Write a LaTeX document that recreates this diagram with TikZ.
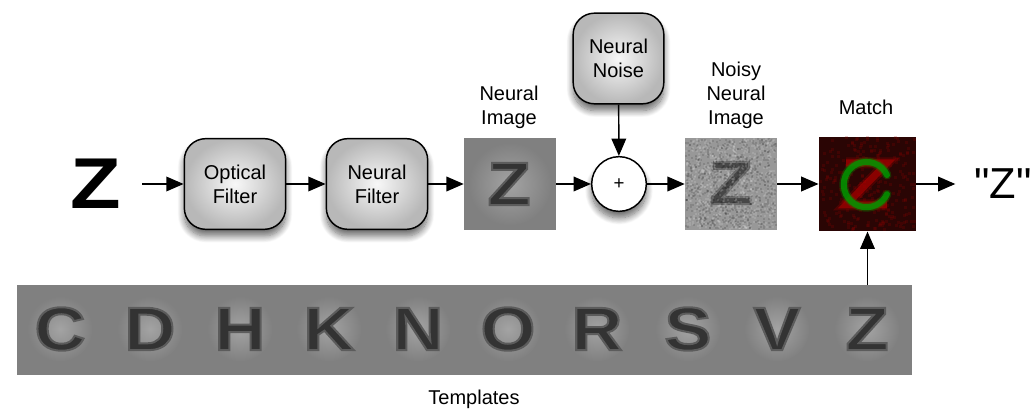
\documentclass[tikz,border=0pt]{standalone}
\usepackage{fontspec}
\setmainfont{Liberation Sans}
\newfontfamily\eyefont[FakeStretch=1.15]{Liberation Sans}
\newfontfamily\answerfont{Liberation Sans}
\usetikzlibrary{arrows.meta, shadows.blur}

% soft edged letter, stroke lighter than the fill
\newcommand{\softletter}[2]{\special{pdf:code 2 Tr 1.5 w #1 G}#2\special{pdf:code 0 Tr}}

\tikzset{
  label/.style={inner sep=0pt, align=center, font=\fontsize{15}{18}\selectfont},
  flow/.style={-{Triangle[length=13pt,width=11pt]}, line width=1.1pt},
  softshadow/.style={blur shadow={shadow xshift=0pt, shadow yshift=-5pt, shadow blur radius=5pt, shadow blur steps=12, shadow opacity=60}},
  filterbox/.style={label, rectangle, rounded corners=16pt, draw=black, line width=1.1pt, shading=radial, inner color=black!3, outer color=black!28, minimum height=68pt, softshadow},
  photo/.style={inner sep=0pt, minimum width=69pt, minimum height=69pt},
  halo/.style={circle, inner sep=0pt, minimum size=49pt, shading=radial, inner color=black!36, outer color=tmplgray},
  letter/.style={inner sep=0pt, text=black!80, font=\eyefont\bfseries\fontsize{46}{46}\selectfont},
}
\definecolor{tmplgray}{HTML}{808080}
\definecolor{noisygray}{HTML}{989898}
\definecolor{matchred}{HTML}{2A0504}

\begin{document}
\begin{tikzpicture}[x=0.75pt, y=-0.75pt]
\useasboundingbox (0,0) rectangle (1033,409);
\pgfmathsetseed{7}

% top row
\node[inner sep=0pt, minimum width=69pt, font=\eyefont\bfseries\fontsize{54}{54}\selectfont] (stim) at (96,184) {Z};
\node[filterbox, minimum width=76pt] (optical) at (235,184) {Optical\\Filter};
\node[filterbox, minimum width=76pt] (neural) at (377,184) {Neural\\Filter};
\node[photo, fill=tmplgray] (image) at (510,184) {};
\node[filterbox, minimum width=68pt] (noise) at (618.5,58.5) {Neural\\Noise};
\node[circle, draw=black, fill=white, line width=1.1pt, minimum size=41pt, inner sep=0pt, softshadow, font=\fontsize{14}{14}\selectfont] (sum) at (619,184) {+};
\node[photo, fill=noisygray] (noisy) at (731,184) {};
\node[photo, fill=matchred, minimum width=73pt, minimum height=71pt] (match) at (867.5,184) {};
\node[inner sep=0pt, anchor=west, font=\answerfont\fontsize{32.5}{33}\selectfont] (answer) at (974,184) {"Z"};

% labels
\node[label] (imagelabel) at (509,107) {Neural\\Image};
\node[label] (noisylabel) at (736,95) {Noisy\\Neural\\Image};
\node[label] (matchlabel) at (866,107) {Match};
\node[label] (tmpllabel) at (474,399) {Templates};

% neural image
\node[halo, minimum size=62pt] (imagehalo) at (510,184) {};
\node[letter] (imagez) at (509,184) {\softletter{0.36}{Z}};

% noisy image
\node[letter, text=black!72] (noisyz) at (731,183) {\softletter{0.42}{Z}};
\foreach \i in {1,...,1400} {
  \pgfmathsetmacro{\px}{685+rnd*90}
  \pgfmathsetmacro{\py}{138+rnd*90}
  \pgfmathsetmacro{\ps}{rnd<0.5 ? 100 : 0}
  \fill[black!\ps, opacity=0.12] (\px,\py) rectangle +(2,2);
}

% match image
\foreach \i in {1,...,260} {
  \pgfmathsetmacro{\px}{819+rnd*94}
  \pgfmathsetmacro{\py}{136+rnd*92}
  \fill[red!60!black, opacity=0.2] (\px,\py) rectangle +(3,3);
}
\foreach \w/\o in {11/0.25, 7/0.6} {
  \draw[red!70!black, line width=\w*0.75pt, opacity=\o] (846,163) -- (887,163) -- (846,205) -- (887,205);
}
\foreach \w/\o in {9/0.3, 6/0.8} {
  \draw[green!60!black, line width=\w*0.75pt, opacity=\o, line cap=round] (887,175) arc[start angle=25, end angle=335, radius=17pt];
}

% template strip
\node[inner sep=0pt, fill=tmplgray, minimum width=671pt, minimum height=67.5pt] (templates) at (464.5,330) {};
\foreach \x/\c in {60/C, 150/D, 240/H, 329/K, 418/N, 508/O, 597/R, 688/S, 777/V, 867/Z} {
  \node[halo] (halo\c) at (\x,329) {};
  \node[letter] (tmpl\c) at (\x,329) {\softletter{0.36}{\c}};
}

% connectors
\draw[flow] (stim) -- (optical);
\draw[flow] (optical) -- (neural);
\draw[flow] (neural) -- (image);
\draw[flow] (image) -- (sum);
\draw[flow] (noise) -- (sum);
\draw[flow] (sum) -- (noisy);
\draw[flow] (noisy) -- (match);
\draw[flow, shorten >=14pt] (match) -- (answer);
\draw[flow] (templates.north -| match) -- (match);

\end{tikzpicture}
\end{document}
